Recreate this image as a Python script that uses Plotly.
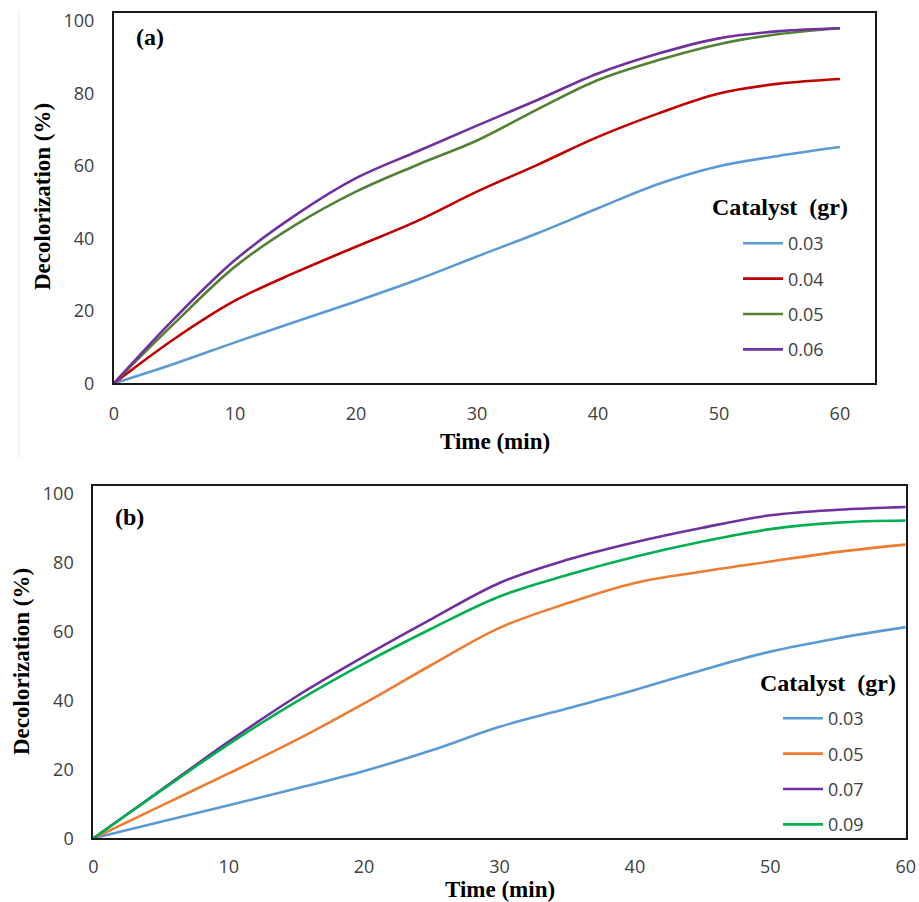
import plotly.graph_objects as go

# Sampling times (min)
time_min = [0, 5, 10, 15, 20, 25, 30, 35, 40, 45, 50, 55, 60]

# Panel (a): catalyst loads 0.03-0.06 g
doses_a = ["0.03", "0.04", "0.05", "0.06"]
decol_a_003 = [0, 5.4, 11.3, 17.0, 22.6, 28.5, 35.0, 41.4, 48.3, 55.0, 59.9, 62.8, 65.2]
decol_a_004 = [0, 12.3, 22.8, 30.6, 37.7, 44.7, 52.9, 60.3, 68.0, 74.5, 80.0, 82.7, 84.0]
decol_a_005 = [0, 16.6, 32.2, 43.7, 52.9, 60.2, 67.0, 75.6, 83.7, 89.2, 93.6, 96.4, 98.0]
decol_a_006 = [0, 17.9, 34.0, 46.4, 56.6, 63.9, 71.1, 78.2, 85.5, 91.0, 95.2, 97.2, 98.0]

# Panel (b): catalyst loads 0.03-0.09 g
doses_b = ["0.03", "0.05", "0.07", "0.09"]
decol_b_003 = [0, 4.8, 9.6, 14.4, 19.5, 25.5, 32.3, 37.6, 43.0, 48.8, 54.1, 58.0, 61.2]
decol_b_005 = [0, 9.4, 18.8, 28.5, 39.1, 50.3, 61.0, 68.1, 74.0, 77.3, 80.2, 83.0, 85.1]
decol_b_007 = [0, 14.0, 28.0, 41.1, 52.7, 63.6, 74.0, 80.7, 85.8, 90.0, 93.6, 95.2, 96.0]
decol_b_009 = [0, 13.8, 27.3, 39.6, 50.7, 60.8, 70.1, 76.3, 81.6, 86.0, 89.6, 91.5, 92.1]

series_a = [decol_a_003, decol_a_004, decol_a_005, decol_a_006]
series_b = [decol_b_003, decol_b_005, decol_b_007, decol_b_009]
colors_a = ["#5B9BD5", "#C00000", "#548235", "#7030A0"]
colors_b = ["#5B9BD5", "#ED7D31", "#7030A0", "#00B050"]

W, H = 919, 902
SERIF = "Liberation Serif, Times New Roman, serif"
SANS = "Open Sans, sans-serif"
TXT = "#404040"


def px_x(p):
    return p / W


def px_y(p):
    return 1 - p / H


fig = go.Figure()

for i, (name, ys, col) in enumerate(zip(doses_a, series_a, colors_a)):
    fig.add_trace(go.Scatter(
        x=time_min, y=ys, name=name, mode="lines",
        line=dict(color=col, width=2.6, shape="spline", smoothing=1.0),
        xaxis="x", yaxis="y", legend="legend", legendgroup="a%d" % i,
    ))

for i, (name, ys, col) in enumerate(zip(doses_b, series_b, colors_b)):
    fig.add_trace(go.Scatter(
        x=time_min, y=ys, name=name, mode="lines",
        line=dict(color=col, width=2.6, shape="spline", smoothing=1.0),
        xaxis="x2", yaxis="y2", legend="legend2", legendgroup="b%d" % i,
    ))

axis_common = dict(
    showgrid=False, zeroline=False, showline=True, mirror=True,
    linecolor="#1a1a1a", linewidth=2, ticks="", automargin=False,
    tickfont=dict(family=SANS, size=18, color=TXT),
)
xticks = [0, 10, 20, 30, 40, 50, 60]
ytick = dict(tickvals=[0, 20, 40, 60, 80, 100], ticklabelstandoff=14)

legend_common = dict(
    xanchor="left", yanchor="top", bgcolor="rgba(0,0,0,0)",
    font=dict(family=SANS, size=18, color=TXT),
    tracegroupgap=9, itemwidth=40,
)

fig.update_layout(
    width=W, height=H,
    margin=dict(l=0, r=0, t=0, b=0, autoexpand=False),
    paper_bgcolor="white", plot_bgcolor="white",
    xaxis=dict(domain=[px_x(114), px_x(875)], range=[0, 62.9], tickvals=xticks,
               ticklabelstandoff=13, anchor="y", **axis_common),
    yaxis=dict(domain=[px_y(383.3), px_y(13)], range=[0, 102.2],
               anchor="x", **ytick, **axis_common),
    xaxis2=dict(domain=[px_x(93.3), px_x(905.7)], range=[0, 60], tickvals=xticks,
                ticklabelstandoff=11, anchor="y2", **axis_common),
    yaxis2=dict(domain=[px_y(838.3), px_y(486)], range=[0, 102.1],
                anchor="x2", **ytick, **axis_common),
    legend=dict(x=px_x(738), y=px_y(225), **legend_common),
    legend2=dict(x=px_x(778), y=px_y(700), **legend_common),
    showlegend=True,
)

annotations = [
    dict(text="<b>(a)</b>", x=px_x(150), y=px_y(37), size=24),
    dict(text="<b>(b)</b>", x=px_x(129), y=px_y(517), size=24),
    dict(text="<b>Time (min)</b>", x=px_x(495), y=px_y(441), size=23),
    dict(text="<b>Time (min)</b>", x=px_x(500), y=px_y(889), size=23),
    dict(text="<b>Decolorization (%)</b>", x=px_x(43), y=px_y(197), size=23, textangle=-90),
    dict(text="<b>Decolorization (%)</b>", x=px_x(21), y=px_y(662), size=23, textangle=-90),
    dict(text="<b>Catalyst  (gr)</b>", x=px_x(780), y=px_y(207), size=24),
    dict(text="<b>Catalyst  (gr)</b>", x=px_x(828), y=px_y(683), size=24),
]
for a in annotations:
    sz = a.pop("size")
    a.update(xref="paper", yref="paper", showarrow=False,
             xanchor="center", yanchor="middle",
             font=dict(family=SERIF, size=sz, color="black"))
fig.update_layout(annotations=annotations)

# thin light border at the left of the upper panel
fig.add_shape(type="line", xref="paper", yref="paper",
              x0=px_x(19), x1=px_x(19), y0=px_y(10), y1=px_y(458),
              line=dict(color="#e8e8e8", width=1))

# page body without default margin so the figure sits at the window origin
fig.write_html("out.html", post_script="document.body.style.margin='0';")
